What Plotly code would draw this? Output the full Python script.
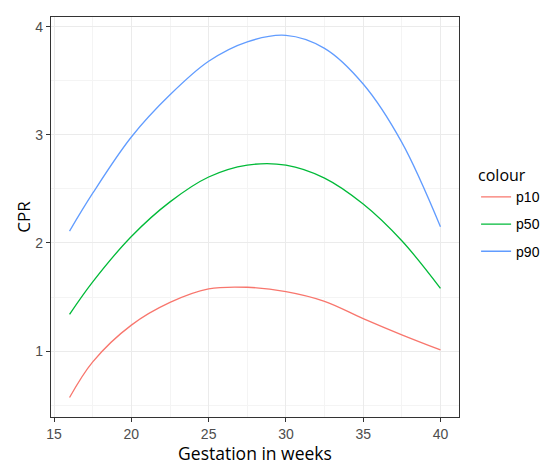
import plotly.graph_objects as go

weeks = [16, 17.5, 20, 22.5, 25, 27.5, 30, 32.5, 35, 37.5, 40]
p10 = [0.57, 0.90, 1.24, 1.45, 1.575, 1.59, 1.55, 1.46, 1.30, 1.15, 1.01]
p50 = [1.34, 1.64, 2.06, 2.38, 2.61, 2.72, 2.72, 2.60, 2.36, 2.02, 1.58]
p90 = [2.11, 2.46, 2.98, 3.37, 3.68, 3.86, 3.92, 3.80, 3.47, 2.93, 2.15]
series_names = ["p10", "p50", "p90"]
colors = ["#F8766D", "#00BA38", "#619CFF"]
x_ticks = [15, 20, 25, 30, 35, 40]
y_ticks = [1, 2, 3, 4]

fig = go.Figure()
for name, vals, col in zip(series_names, [p10, p50, p90], colors):
    fig.add_trace(go.Scatter(
        x=weeks, y=vals, mode="lines", name=name, legendgroup=name,
        line=dict(color=col, width=1.3, shape="spline", smoothing=1.0),
    ))

axis_common = dict(
    showline=True, linecolor="#333333", linewidth=1.2, mirror=True,
    showgrid=True, gridcolor="#EBEBEB", gridwidth=1,
    ticks="outside", ticklen=4, tickcolor="#333333", tickwidth=1,
    tickfont=dict(family="Liberation Sans, Arial", size=14, color="#4D4D4D"),
    zeroline=False, automargin=False,
)

fig.update_layout(
    width=541, height=465,
    margin=dict(l=51, r=82, t=17, b=48, autoexpand=False),
    paper_bgcolor="white", plot_bgcolor="white",
    xaxis=dict(range=[14.8, 41.2], tickvals=x_ticks,
               minor=dict(showgrid=True, gridcolor="#F4F4F4", gridwidth=0.8,
                          tickvals=[17.5, 22.5, 27.5, 32.5, 37.5], ticks=""),
               title=dict(text="Gestation in weeks", standoff=11,
                          font=dict(family="Open Sans", size=17.5, color="#000000")),
               **axis_common),
    yaxis=dict(range=[0.39, 4.09], tickvals=y_ticks,
               minor=dict(showgrid=True, gridcolor="#F4F4F4", gridwidth=0.8,
                          tickvals=[0.5, 1.5, 2.5, 3.5], ticks=""),
               title=dict(text="CPR", standoff=0,
                          font=dict(family="Open Sans", size=17, color="#000000")),
               **axis_common),
    legend=dict(
        title=dict(text="colour", font=dict(family="Open Sans", size=16, color="#000000")),
        font=dict(family="Liberation Sans, Arial", size=14, color="#000000"),
        xref="container", yref="container",
        x=0.88, y=0.655, xanchor="left", yanchor="top",
        tracegroupgap=6, traceorder="grouped", bgcolor="rgba(0,0,0,0)",
    ),
)

fig.write_html("out.html", post_script="document.body.style.margin='0px';",
               config={"displayModeBar": False})
